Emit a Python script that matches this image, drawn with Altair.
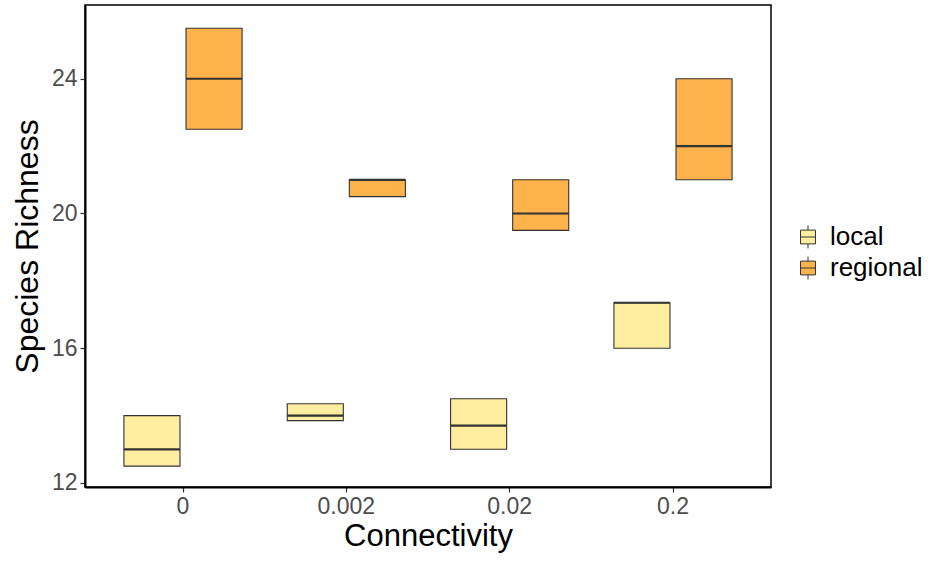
import altair as alt
import pandas as pd

connectivity = ["0", "0.002", "0.02", "0.2"]
groups = ["local", "regional"]
local_q1 = [12.5, 13.85, 13.0, 16.0]
local_med = [13.0, 14.0, 13.7, 17.35]
local_q3 = [14.0, 14.35, 14.5, 17.35]
regional_q1 = [22.5, 20.5, 19.5, 21.0]
regional_med = [24.0, 21.0, 20.0, 22.0]
regional_q3 = [25.5, 21.0, 21.0, 24.0]
colors = ["#FFEDA0", "#FEB24C"]

rows = []
for i, c in enumerate(connectivity):
    rows.append({"conn": c, "grp": "local", "q1": local_q1[i], "med": local_med[i], "q3": local_q3[i]})
    rows.append({"conn": c, "grp": "regional", "q1": regional_q1[i], "med": regional_med[i], "q3": regional_q3[i]})
df = pd.DataFrame(rows)

FONT = "Liberation Sans"

x = alt.X("conn:N", sort=connectivity, title="Connectivity",
          scale=alt.Scale(paddingInner=0, paddingOuter=0.1),
          axis=alt.Axis(labelAngle=0, labelFontSize=23, labelColor="#4D4D4D",
                        titleFontSize=31, titleColor="#000000", titleFontWeight="normal",
                        tickSize=5, tickColor="#333333", tickWidth=1.2,
                        domainColor="#000000", domainWidth=2,
                        labelPadding=3, titlePadding=3, grid=False))
xo = alt.XOffset("grp:N", sort=groups,
                 scale=alt.Scale(paddingInner=0.097, paddingOuter=0.364))
y_scale = alt.Scale(domain=[11.88, 26.19], nice=False, zero=False)
y = alt.Y("q1:Q", scale=y_scale, title="Species Richness",
          axis=alt.Axis(values=[12, 16, 20, 24], labelFontSize=23, labelColor="#4D4D4D",
                        titleFontSize=32, titleColor="#000000", titleFontWeight="normal",
                        tickSize=5, tickColor="#333333", tickWidth=1.2,
                        domainColor="#000000", domainWidth=2,
                        labelPadding=3, titlePadding=7, grid=False))

legend_symbol = "M-0.65,-0.6H0.65V0.6H-0.65Z M-0.65,0H0.65 M0,-0.6V-1 M0,0.6V1"

boxes = alt.Chart(df).mark_bar(stroke="#333333", strokeWidth=1.1).encode(
    x=x,
    xOffset=xo,
    y=y,
    y2="q3:Q",
    fill=alt.Fill("grp:N", scale=alt.Scale(domain=groups, range=colors),
                  legend=alt.Legend(title=None, orient="none", legendX=710, legendY=219,
                                    symbolType=legend_symbol, symbolSize=529,
                                    symbolStrokeColor="#333333", symbolStrokeWidth=1,
                                    labelFontSize=26, labelColor="#000000", labelFont=FONT,
                                    labelOffset=9, rowPadding=3)),
)

medians = alt.Chart(df).mark_bar(stroke="#333333", strokeWidth=2.2, fill="#333333").encode(
    x=x,
    xOffset=xo,
    y=alt.Y("med:Q", scale=y_scale),
    y2="med:Q",
)

chart = alt.layer(boxes, medians).properties(
    width=686, height=482,
    autosize=alt.AutoSizeParams(type="none"),
    padding={"left": 85, "top": 5, "right": 164, "bottom": 75},
    background="white",
).configure_view(
    stroke="#000000", strokeWidth=1.5
).configure_axis(
    labelFont=FONT, titleFont=FONT
).configure_legend(
    labelFont=FONT
)

chart.save("out.html", embed_options={"renderer": "svg", "actions": False})
